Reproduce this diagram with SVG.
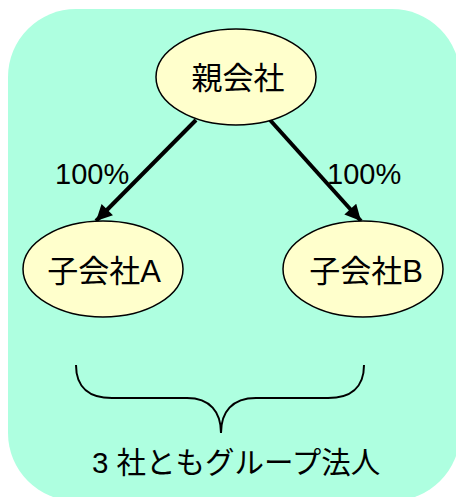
<svg xmlns="http://www.w3.org/2000/svg" width="456" height="497" viewBox="0 0 456 497">
<style>
.node ellipse{fill:#ffffcc;stroke:#000;stroke-width:1.5}
text{font-family:"Liberation Sans","Noto Sans CJK JP",sans-serif;fill:#000}
.lbl{font-size:29px}
.conn line{stroke:#000;stroke-width:4}
</style>
<defs>
<marker id="ah" viewBox="0 0 10 10" refX="10" refY="5" markerWidth="4.5" markerHeight="4" orient="auto" markerUnits="strokeWidth">
<path d="M0,0 L10,5 L0,10 z" fill="#000"/>
</marker>
</defs>
<rect id="background" x="8" y="9" width="452" height="492" rx="68" ry="68" fill="#aeffe0"/>
<g id="connectors" class="conn">
<line x1="196" y1="120" x2="96" y2="221" marker-end="url(#ah)"/>
<line x1="270" y1="120" x2="361" y2="221" marker-end="url(#ah)"/>
</g>
<g id="label-left"><text class="lbl" x="55" y="184">100%</text></g>
<g id="label-right"><text class="lbl" x="327" y="184">100%</text></g>
<g id="parent" class="node">
<ellipse cx="236" cy="77" rx="80" ry="48"/>
<text x="238" y="89" font-size="31" text-anchor="middle">親会社</text>
</g>
<g id="childA" class="node">
<ellipse cx="103" cy="269" rx="80" ry="48"/>
<text x="104" y="282" font-size="31" text-anchor="middle">子会社A</text>
</g>
<g id="childB" class="node">
<ellipse cx="363" cy="269" rx="80" ry="48"/>
<text x="366" y="282" font-size="31" text-anchor="middle">子会社B</text>
</g>
<g id="brace">
<path d="M76,365 C76,388 90,398 112,398 L187,398 C210,398 221,412 221,433 C221,412 232,398 256,398 L328,398 C350,398 364,388 364,365" fill="none" stroke="#000" stroke-width="2"/>
</g>
<g id="caption"><text x="92" y="473" font-size="29.5">3 社ともグループ法人</text></g>
</svg>
